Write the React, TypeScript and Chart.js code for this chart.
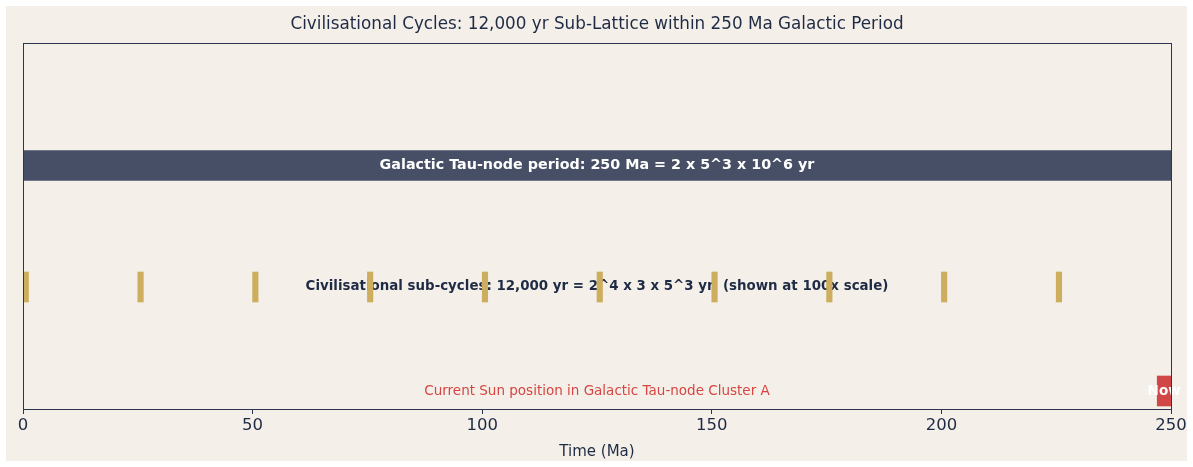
import React, { useEffect, useRef } from "react";
import { Chart, registerables } from "chart.js";

Chart.register(...registerables);

// ---- data ----
const TITLE = "Civilisational Cycles: 12,000 yr Sub-Lattice within 250 Ma Galactic Period";
const X_TITLE = "Time (Ma)";
const X_MIN = 0;
const X_MAX = 250;
const X_STEP = 50;

const galacticRange: [number, number] = [0, 250];
const galacticRow = 2.435;
const galacticLabel = "Galactic Tau-node period: 250 Ma = 2 x 5^3 x 10^6 yr";

const civStarts = [0, 25, 50, 75, 100, 125, 150, 175, 200, 225];
const civWidth = 1.2; // 12,000 yr shown at 100x scale (Ma)
const civRow = 1.22;
const civLabel = "Civilisational sub-cycles: 12,000 yr = 2^4 x 3 x 5^3 yr  (shown at 100x scale)";

const nowRange: [number, number] = [247, 250];
const nowRow = 0.18;
const nowLabel = "Now";
const sunLabel = "Current Sun position in Galactic Tau-node Cluster A";
const labelX = 125;

const Y_MIN = 0;
const Y_MAX = 3.66;

const NAVY = "#1f2a44";
const FRAME = "#2b3552";
const BG = "#f4f0e9";

export default function App() {
  const ref = useRef<HTMLCanvasElement | null>(null);

  useEffect(() => {
    document.body.style.margin = "0";
    document.body.style.background = "#ffffff";
    const canvas = ref.current;
    if (!canvas) return;

    const FONT = "'DejaVu Sans', sans-serif";

    const bgPlugin = {
      id: "bg",
      beforeDraw(chart: any) {
        const { ctx, width, height } = chart;
        ctx.save();
        ctx.fillStyle = BG;
        ctx.fillRect(0, 0, width, height);
        ctx.restore();
      },
    };

    const textPlugin = {
      id: "texts",
      beforeDatasetsDraw(chart: any) {
        const { ctx, scales } = chart;
        ctx.save();
        ctx.textAlign = "center";
        ctx.textBaseline = "middle";
        ctx.font = `bold 13.4px ${FONT}`;
        ctx.fillStyle = NAVY;
        ctx.fillText(civLabel, scales.x.getPixelForValue(labelX), scales.y.getPixelForValue(civRow));
        ctx.restore();
      },
      afterDatasetsDraw(chart: any) {
        const { ctx, scales, chartArea } = chart;
        ctx.save();
        ctx.textAlign = "center";
        ctx.textBaseline = "middle";
        ctx.font = `bold 14.3px ${FONT}`;
        ctx.fillStyle = "#ffffff";
        ctx.fillText(galacticLabel, scales.x.getPixelForValue(labelX), scales.y.getPixelForValue(galacticRow));
        ctx.font = `bold 13.5px ${FONT}`;
        ctx.fillText(
          nowLabel,
          scales.x.getPixelForValue((nowRange[0] + nowRange[1]) / 2),
          scales.y.getPixelForValue(nowRow)
        );
        ctx.font = `13.5px ${FONT}`;
        ctx.fillStyle = "#d64541";
        ctx.fillText(sunLabel, scales.x.getPixelForValue(labelX), scales.y.getPixelForValue(nowRow));
        // frame
        ctx.strokeStyle = FRAME;
        ctx.lineWidth = 1;
        ctx.strokeRect(
          Math.round(chartArea.left) + 0.5,
          Math.round(chartArea.top) + 0.5,
          Math.round(chartArea.right - chartArea.left),
          Math.round(chartArea.bottom - chartArea.top)
        );
        // title
        ctx.font = `16.8px ${FONT}`;
        ctx.fillStyle = NAVY;
        ctx.fillText(TITLE, (chartArea.left + chartArea.right) / 2, 19);
        ctx.restore();
      },
    };

    const chart = new Chart(canvas, {
      type: "bar",
      data: {
        datasets: [
          {
            label: "galactic",
            data: [{ x: galacticRange, y: galacticRow }] as any,
            backgroundColor: "#474f66",
            borderWidth: 0,
            barThickness: 30,
            grouped: false,
          } as any,
          {
            label: "civ",
            data: civStarts.map((s) => ({ x: [s, s + civWidth], y: civRow })) as any,
            backgroundColor: "#cdae5e",
            borderWidth: 0,
            barThickness: 30,
            grouped: false,
          } as any,
          {
            label: "now",
            data: [{ x: nowRange, y: nowRow }] as any,
            backgroundColor: "#d14747",
            borderWidth: 0,
            barThickness: 30,
            grouped: false,
          } as any,
        ],
      },
      options: {
        animation: false,
        responsive: false,
        indexAxis: "y",
        layout: { padding: { left: 17, right: 16, top: 37, bottom: 0 } },
        plugins: {
          legend: { display: false },
          tooltip: { enabled: false },
          title: { display: false },
        },
        scales: {
          x: {
            type: "linear",
            min: X_MIN,
            max: X_MAX,
            ticks: {
              stepSize: X_STEP,
              color: NAVY,
              font: { size: 16.5, family: FONT },
              padding: 2,
            },
            grid: {
              drawOnChartArea: false,
              drawTicks: true,
              tickLength: 5,
              color: FRAME,
            },
            border: { display: true, color: FRAME, width: 1 },
            title: {
              display: true,
              text: X_TITLE,
              color: NAVY,
              font: { size: 15, family: FONT },
              padding: { top: 2, bottom: 0 },
            },
            afterFit(scale: any) {
              scale.height = 52;
              scale.paddingLeft = 0;
              scale.paddingRight = 0;
            },
          },
          y: {
            type: "linear",
            min: Y_MIN,
            max: Y_MAX,
            offset: false,
            display: false,
          },
        },
      } as any,
      plugins: [bgPlugin, textPlugin],
    });

    return () => chart.destroy();
  }, []);

  return (
    <div style={{ width: 1193, height: 467, padding: 6, boxSizing: "border-box", background: "#ffffff" }}>
      <canvas ref={ref} width={1181} height={455} style={{ display: "block", width: 1181, height: 455 }} />
    </div>
  );
}
